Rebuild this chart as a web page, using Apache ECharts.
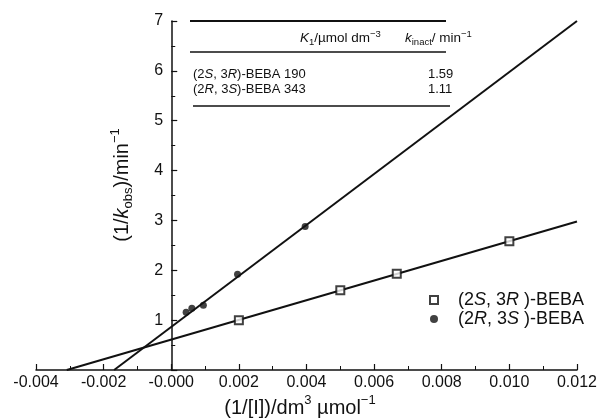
<!DOCTYPE html>
<html>
<head>
<meta charset="utf-8">
<script src="https://cdn.jsdelivr.net/npm/echarts@6/dist/echarts.min.js"></script>
<style>
  html, body { margin: 0; padding: 0; background: #ffffff; }
  #chart { width: 600px; height: 420px; }
</style>
</head>
<body>
<div id="chart"></div>
<script>
// axis ticks
const xTickLabels = ['-0.004', '-0.002', '-0.000', '0.002', '0.004', '0.006', '0.008', '0.010', '0.012'];
const yTickLabels = ['', '1', '2', '3', '4', '5', '6', '7'];

// (2S,3R)-BEBA, open squares
const srX = [0.002, 0.005, 0.00667, 0.010];
const srY = [1.00, 1.60, 1.93, 2.58];
// (2R,3S)-BEBA, filled dots
const rsX = [0.00044, 0.00061, 0.00095, 0.00196, 0.00396];
const rsY = [1.16, 1.24, 1.30, 1.92, 2.88];

// fitted lines, end points
const srFit = [[-0.00309, 0], [0.012, 2.98]];
const rsFit = [[-0.00169, 0], [0.012, 7.0]];

// inset table
const tableNames = ['{n|(2}{i|S}{n|, 3}{i|R}{n|)-BEBA}', '{n|(2}{i|R}{n|, 3}{i|S}{n|)-BEBA}'];
const tableKi = [190, 343];
const tableKinact = [1.59, 1.11];

const legendNames = ['(2S, 3R)-BEBA', '(2R, 3S)-BEBA'];

const FONT = 'Liberation Sans, Arial, Helvetica, sans-serif';
const INK = '#111';

const zip = (xs, ys) => xs.map((x, i) => [x, ys[i]]);

const chart = echarts.init(document.getElementById('chart'));

// grid in pixels, used to park the y axis on x = 0
const gridLeft = 36;
const gridRight = 23;
const xMin = -0.004;
const xMax = 0.012;
const yAxisShift = (600 - gridLeft - gridRight) * (0 - xMin) / (xMax - xMin);

const rowFont = 13;
const tableText = [];
const rowY = [76, 91];
tableNames.forEach((name, i) => {
  tableText.push(
    { type: 'text', left: 193, top: rowY[i] - 8, style: { text: name, fill: INK,
      rich: { n: { fontSize: rowFont, fontFamily: FONT }, i: { fontSize: rowFont, fontFamily: FONT, fontStyle: 'italic' } } } },
    { type: 'text', left: 284, top: rowY[i] - 8, style: { text: String(tableKi[i]), font: rowFont + 'px ' + FONT, fill: INK } },
    { type: 'text', left: 428, top: rowY[i] - 8, style: { text: tableKinact[i].toFixed(2), font: rowFont + 'px ' + FONT, fill: INK } }
  );
});

const headRich = {
  n: { fontSize: 13.5, fontFamily: FONT, lineHeight: 18, verticalAlign: 'middle' },
  i: { fontSize: 13.5, fontFamily: FONT, fontStyle: 'italic', lineHeight: 18, verticalAlign: 'middle' },
  s: { fontSize: 9.5, fontFamily: FONT, lineHeight: 18, verticalAlign: 'bottom' },
  p: { fontSize: 9.5, fontFamily: FONT, lineHeight: 18, verticalAlign: 'top' }
};

const option = {
  animation: false,
  backgroundColor: '#ffffff',
  grid: { left: gridLeft, right: gridRight, top: 21, bottom: 50 },
  xAxis: {
    type: 'value',
    min: xMin,
    max: xMax,
    interval: 0.002,
    axisLine: { lineStyle: { color: INK, width: 1.5 } },
    axisTick: { inside: true, length: 6, lineStyle: { color: INK, width: 1.2 } },
    minorTick: { show: true, splitNumber: 2, length: 4, lineStyle: { color: INK, width: 1 } },
    splitLine: { show: false },
    axisLabel: {
      color: INK, fontFamily: FONT, fontSize: 16, margin: 5,
      formatter: (v) => xTickLabels[Math.round((v - xMin) / 0.002)]
    }
  },
  yAxis: {
    type: 'value',
    min: 0,
    max: 7,
    interval: 1,
    offset: -yAxisShift,
    axisLine: { onZero: false, lineStyle: { color: INK, width: 1.5 } },
    axisTick: { inside: true, length: 6, lineStyle: { color: INK, width: 1.2 } },
    minorTick: { show: true, splitNumber: 2, length: 4, lineStyle: { color: INK, width: 1 } },
    splitLine: { show: false },
    axisLabel: {
      color: INK, fontFamily: FONT, fontSize: 16, margin: 8,
      formatter: (v) => yTickLabels[Math.round(v)]
    }
  },
  legend: {
    data: legendNames,
    orient: 'vertical',
    left: 424,
    top: 286,
    itemWidth: 8,
    itemHeight: 8,
    itemGap: 1,
    formatter: (name) => name === legendNames[0]
      ? '{g|}{n|(2}{i|S}{n|, 3}{i|R}{n| )-BEBA}'
      : '{g|}{n|(2}{i|R}{n|, 3}{i|S}{n| )-BEBA}',
    textStyle: {
      color: INK,
      rich: {
        g: { width: 15, lineHeight: 20 },
        n: { fontSize: 18, fontFamily: FONT, color: INK, lineHeight: 20 },
        i: { fontSize: 18, fontFamily: FONT, fontStyle: 'italic', color: INK, lineHeight: 20 }
      }
    }
  },
  series: [
    {
      type: 'line', data: srFit, symbol: 'none', silent: true,
      lineStyle: { color: INK, width: 2 }, z: 2
    },
    {
      type: 'line', data: rsFit, symbol: 'none', silent: true,
      lineStyle: { color: INK, width: 2 }, z: 2
    },
    {
      name: legendNames[0], type: 'scatter', data: zip(srX, srY),
      symbol: 'rect', symbolSize: 8,
      itemStyle: { color: '#ffffff', borderColor: INK, borderWidth: 2 }, z: 3
    },
    {
      name: legendNames[1], type: 'scatter', data: zip(rsX, rsY),
      symbol: 'circle', symbolSize: 7,
      itemStyle: { color: INK }, z: 3
    }
  ],
  graphic: [
    // axis titles
    {
      type: 'text', x: 300, y: 406,
      style: {
        text: '{n|(1/[I])/dm}{p|3}{n| µmol}{p|−1}',
        align: 'center', verticalAlign: 'middle', fill: INK,
        rich: {
          n: { fontSize: 20, fontFamily: FONT, lineHeight: 24, verticalAlign: 'bottom' },
          p: { fontSize: 13, fontFamily: FONT, lineHeight: 24, verticalAlign: 'top' }
        }
      }
    },
    {
      type: 'text', x: 122, y: 185, rotation: Math.PI / 2,
      style: {
        text: '{n|(1/}{i|k}{s|obs}{n|)/min}{p|−1}',
        align: 'center', verticalAlign: 'middle', fill: INK,
        rich: {
          n: { fontSize: 20, fontFamily: FONT, lineHeight: 26, verticalAlign: 'middle' },
          i: { fontSize: 20, fontFamily: FONT, fontStyle: 'italic', lineHeight: 26, verticalAlign: 'middle' },
          s: { fontSize: 13, fontFamily: FONT, lineHeight: 26, verticalAlign: 'bottom' },
          p: { fontSize: 13, fontFamily: FONT, lineHeight: 26, verticalAlign: 'top' }
        }
      }
    },
    // inset table rules
    { type: 'line', shape: { x1: 190, y1: 21, x2: 446, y2: 21 }, style: { stroke: INK, lineWidth: 2.2 } },
    { type: 'line', shape: { x1: 190, y1: 52, x2: 446, y2: 52 }, style: { stroke: INK, lineWidth: 1.6 } },
    { type: 'line', shape: { x1: 193, y1: 106, x2: 450, y2: 106 }, style: { stroke: INK, lineWidth: 1.6 } },
    // inset table header
    { type: 'text', left: 300, top: 29, style: { text: '{i|K}{s|1}{n|/µmol dm}{p|−3}', fill: INK, rich: headRich } },
    { type: 'text', left: 405, top: 29, style: { text: '{i|k}{s|inact}{n|/ min}{p|−1}', fill: INK, rich: headRich } }
  ].concat(tableText)
};

chart.setOption(option);
</script>
</body>
</html>
